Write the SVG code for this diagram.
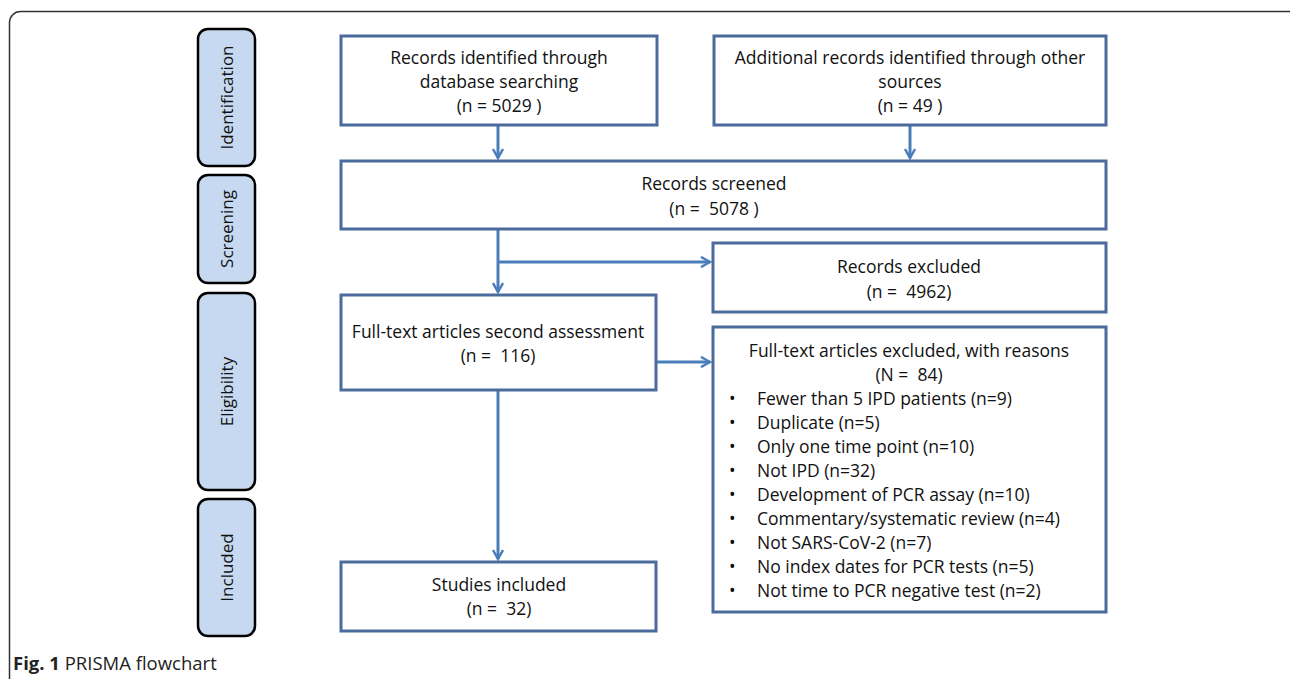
<svg xmlns="http://www.w3.org/2000/svg" width="1290" height="679" viewBox="0 0 1290 679">
<defs>
<style>
.frame{fill:none;stroke:#333;stroke-width:1.5}
.phase{fill:#c6d9f0;stroke:#000;stroke-width:2.5}
.box{fill:#fff;stroke:#4a6b9b;stroke-width:3}
.t{font-family:"Open Sans","Liberation Sans",sans-serif;font-size:17.5px;fill:#111;white-space:pre}
.c{text-anchor:middle}
.pl{font-family:"Open Sans","Liberation Sans",sans-serif;font-size:17px;fill:#111;text-anchor:middle}
.conn{fill:none;stroke:#4a7ebb;stroke-width:3}
.cap{font-family:"Open Sans","Liberation Sans",sans-serif;font-size:18.5px;fill:#222}
</style>
<marker id="ah" viewBox="0 0 12 12" refX="10" refY="6" markerWidth="12" markerHeight="12" markerUnits="userSpaceOnUse" orient="auto">
<path d="M1,1 L10,6 L1,11" fill="none" stroke="#4a7ebb" stroke-width="2.5"/>
</marker>
</defs>
<rect class="frame" x="9.5" y="11.5" width="1300" height="700" rx="11"/>
<g id="phase-identification"><rect class="phase" x="198" y="29" width="57" height="137" rx="10"/><text class="pl" transform="translate(233,97.5) rotate(-90)">Identification</text></g>
<g id="phase-screening"><rect class="phase" x="198" y="175" width="57" height="108" rx="10"/><text class="pl" transform="translate(233,229) rotate(-90)">Screening</text></g>
<g id="phase-eligibility"><rect class="phase" x="198" y="293" width="57" height="197" rx="10"/><text class="pl" transform="translate(233,391.5) rotate(-90)">Eligibility</text></g>
<g id="phase-included"><rect class="phase" x="198" y="499" width="57" height="137" rx="10"/><text class="pl" transform="translate(233,567.5) rotate(-90)">Included</text></g>

<g id="connectors">
<line class="conn" x1="498" y1="125" x2="498" y2="158" marker-end="url(#ah)"/>
<line class="conn" x1="910" y1="125" x2="910" y2="158" marker-end="url(#ah)"/>
<line class="conn" x1="498" y1="229" x2="498" y2="292" marker-end="url(#ah)"/>
<line class="conn" x1="498" y1="262" x2="710" y2="262" marker-end="url(#ah)"/>
<line class="conn" x1="656" y1="362" x2="710" y2="362" marker-end="url(#ah)"/>
<line class="conn" x1="498" y1="390" x2="498" y2="559" marker-end="url(#ah)"/>
</g>

<g id="records-identified"><rect class="box" x="341" y="36" width="316" height="89"/>
<text class="t c" x="499" y="64">Records identified through</text>
<text class="t c" x="499" y="88">database searching</text>
<text class="t c" x="499" y="112">(n = 5029 )</text></g>
<g id="additional-records"><rect class="box" x="714" y="36" width="392" height="89"/>
<text class="t c" x="910" y="64">Additional records identified through other</text>
<text class="t c" x="910" y="88">sources</text>
<text class="t c" x="910" y="112">(n = 49 )</text></g>
<g id="records-screened"><rect class="box" x="341" y="161" width="765" height="68"/>
<text class="t c" x="714" y="190">Records screened</text>
<text class="t c" x="714" y="215">(n =  5078 )</text></g>
<g id="records-excluded"><rect class="box" x="713" y="243" width="393" height="69"/>
<text class="t c" x="909" y="273">Records excluded</text>
<text class="t c" x="909" y="298">(n =  4962)</text></g>
<g id="fulltext-assessed"><rect class="box" x="341" y="295" width="315" height="95"/>
<text class="t c" x="498" y="338">Full-text articles second assessment</text>
<text class="t c" x="498" y="362">(n =  116)</text></g>
<g id="fulltext-excluded"><rect class="box" x="713" y="327" width="393" height="285"/>
<text class="t c" x="909" y="357">Full-text articles excluded, with reasons</text>
<text class="t c" x="909" y="381">(N =  84)</text>
<g class="t">
<text x="729" y="405">•</text><text x="757" y="405">Fewer than 5 IPD patients (n=9)</text>
<text x="729" y="429">•</text><text x="757" y="429">Duplicate (n=5)</text>
<text x="729" y="453">•</text><text x="757" y="453">Only one time point (n=10)</text>
<text x="729" y="477">•</text><text x="757" y="477">Not IPD (n=32)</text>
<text x="729" y="501">•</text><text x="757" y="501">Development of PCR assay (n=10)</text>
<text x="729" y="525">•</text><text x="757" y="525">Commentary/systematic review (n=4)</text>
<text x="729" y="549">•</text><text x="757" y="549">Not SARS-CoV-2 (n=7)</text>
<text x="729" y="573">•</text><text x="757" y="573">No index dates for PCR tests (n=5)</text>
<text x="729" y="597">•</text><text x="757" y="597">Not time to PCR negative test (n=2)</text>
</g></g>
<g id="studies-included"><rect class="box" x="341" y="562" width="315" height="69"/>
<text class="t c" x="499" y="591">Studies included</text>
<text class="t c" x="499" y="615">(n =  32)</text></g>
<text class="cap" x="13" y="670"><tspan font-weight="bold">Fig. 1</tspan> PRISMA flowchart</text>
</svg>
